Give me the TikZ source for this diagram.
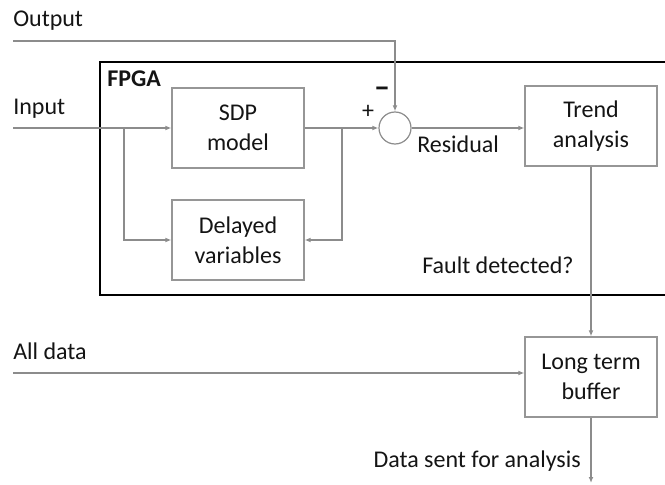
\documentclass[tikz,border=0pt]{standalone}
\usepackage{fontspec}
\setmainfont{Carlito}
\usetikzlibrary{arrows.meta,positioning,calc}
\definecolor{WireGrey}{RGB}{140,140,140}
\definecolor{BoxGrey}{RGB}{150,150,150}
\definecolor{Ink}{RGB}{20,20,20}
\tikzset{
  blk/.style={draw=BoxGrey, line width=0.9pt, fill=white, text=Ink, align=center,
    minimum width=99pt, minimum height=60pt, inner sep=2pt,
    font=\fontsize{18}{22.5}\selectfont},
  sumnode/.style={circle, draw=WireGrey, line width=0.9pt, minimum size=24pt, inner sep=0pt},
  lbl/.style={text=Ink, inner sep=0pt, font=\fontsize{18}{22}\selectfont},
  wire/.style={draw=WireGrey, line width=0.9pt},
  sig/.style={wire, -{Latex[length=4.5pt,width=3.6pt]}},
  chip/.style={draw=black, line width=1.1pt},
}

\begin{document}
\begin{tikzpicture}[x=0.75pt, y=-0.75pt]
\useasboundingbox (0,0) rectangle (665,485);

% ---------------- FPGA frame (open on the right) ----------------
\draw[chip] (665,62) -- (100,62) -- (100,295) -- (665,295);
\node[lbl, anchor=base west, font=\fontsize{18}{22}\selectfont\bfseries] (fpga) at (107,87) {FPGA};

% ---------------- blocks ----------------
\node[blk] (sdp) at (238,128) {SDP\\model};
\node[blk] (delay) at (238,240) {Delayed\\variables};
\node[sumnode] (sum) at (395,128) {};
\node[blk] (trend) at (591,126) {Trend\\analysis};
\node[blk] (buffer) at (591,377) {Long term\\buffer};

% ---------------- free ends and branch points ----------------
\coordinate (outin) at (13,41);
\coordinate (inin) at (13,128);
\coordinate (allin) at (13,373);
\coordinate (brin) at (124,128);
\coordinate (brout) at (342,128);
\coordinate (sent) at (591,483);

% ---------------- labels ----------------
\node[lbl, anchor=base west] (outlab) at (13,27) {Output};
\node[lbl, anchor=base west] (inlab) at (13,115) {Input};
\node[lbl, anchor=base west] (alllab) at (13,359) {All data};
\node[lbl] (plus) at (368,112) {+};
\node[lbl, font=\fontsize{24}{24}\selectfont\bfseries] (minus) at (382,92) {–};
\node[lbl, anchor=base west] (reslab) at (417,152) {Residual};
\node[lbl, anchor=base west] (faultlab) at (422,273) {Fault detected?};
\node[lbl, anchor=base east] (sentlab) at (581,467) {Data sent for analysis};

% ---------------- connectors ----------------
\draw[sig] (outin) -| (sum.north);
\draw[sig] (inin) -- (sdp.west);
\draw[sig] (brin) |- (delay.west);
\draw[sig] (sdp.east) -- (sum.west);
\draw[sig] (brout) |- (delay.east);
\draw[sig] (sum.east) -- (sum.east -| trend.west);
\draw[sig] (trend.south) -- (buffer.north);
\draw[sig] (allin) -- (allin -| buffer.west);
\draw[sig] (buffer.south) -- (sent);

\end{tikzpicture}
\end{document}
